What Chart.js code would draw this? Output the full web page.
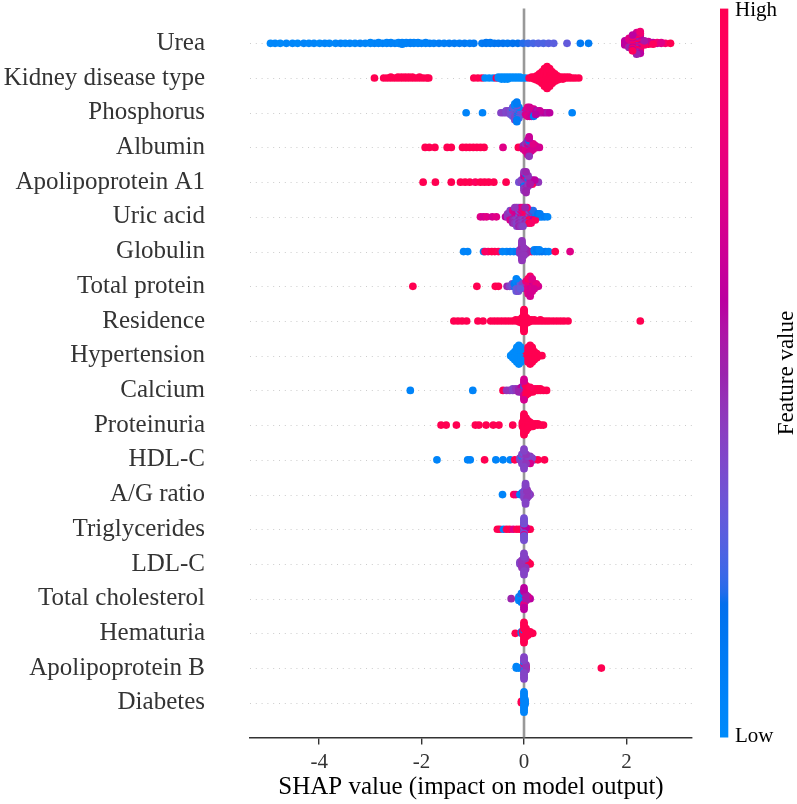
<!DOCTYPE html>
<html><head><meta charset="utf-8">
<script src="https://cdn.jsdelivr.net/npm/chart.js@4.4.0/dist/chart.umd.min.js"></script>
<style>html,body{margin:0;padding:0;background:#fff;}#wrap{width:797px;height:804px;}</style>
</head><body><div id="wrap"><canvas id="c" width="797" height="804"></canvas></div>
<script>
const features = ["Urea","Kidney disease type","Phosphorus","Albumin","Apolipoprotein A1","Uric acid","Globulin","Total protein","Residence","Hypertension","Calcium","Proteinuria","HDL-C","A/G ratio","Triglycerides","LDL-C","Total cholesterol","Hematuria","Apolipoprotein B","Diabetes"];
const xTicks = [-4, -2, 0, 2];
const xMin = -5.35, xMax = 3.28;
const xTitle = "SHAP value (impact on model output)";
const barLabels = {high: "High", low: "Low", title: "Feature value"};

// each entry: [SHAP value, feature value (0 = low, 1 = high), number of samples]
const urea = [[-4.95,0.02,1],[-4.86,0.03,1],[-4.76,0.02,1],[-4.64,0.04,1],[-4.52,0.03,1],[-4.42,0.02,1],[-4.3,0.05,1],[-4.2,0.03,1],[-4.1,0.04,1],[-3.99,0.02,1],[-3.89,0.05,1],[-3.8,0.03,1],
 [-3.68,0.04,1],[-3.58,0.06,1],[-3.49,0.03,1],[-3.4,0.05,1],[-3.3,0.04,1],[-3.2,0.06,1],[-3.1,0.05,1],[-3.0,0.04,2],[-2.92,0.06,1],[-2.84,0.05,2],[-2.76,0.07,1],[-2.68,0.05,2],[-2.6,0.06,2],[-2.52,0.08,1],[-2.45,0.05,2],[-2.38,0.07,3],[-2.3,0.06,2],[-2.22,0.08,2],[-2.15,0.07,2],[-2.07,0.06,2],[-2.0,0.08,1],[-1.92,0.07,2],[-1.84,0.09,1],[-1.76,0.08,1],[-1.66,0.1,1],[-1.56,0.09,1],[-1.46,0.1,1],[-1.36,0.11,1],[-1.26,0.1,1],[-1.16,0.12,1],[-1.06,0.1,1],[-0.98,0.12,1],
 [-0.82,0.12,1],[-0.74,0.14,2],[-0.66,0.13,2],[-0.58,0.15,1],[-0.5,0.14,1],[-0.41,0.16,1],[-0.32,0.15,1],[-0.22,0.17,1],[-0.12,0.18,1],[-0.02,0.2,1],[0.08,0.22,1],[0.18,0.24,1],[0.28,0.26,1],[0.38,0.25,1],[0.48,0.27,1],[0.58,0.28,1],
 [0.84,0.3,1],[1.1,0.12,1],[1.26,0.1,1],
 [1.97,0.6,4],[1.97,0.9,2],[2.05,0.75,5],[2.05,0.5,4],[2.05,0.95,3],[2.12,0.95,7],[2.12,0.6,7],[2.12,0.8,6],[2.2,0.7,6],[2.2,1.0,5],[2.2,0.5,6],[2.27,0.85,6],[2.27,0.6,5],[2.35,0.9,3],[2.35,0.55,3],[2.43,1.0,2],[2.43,0.65,2],[2.52,0.95,2],[2.52,0.6,1],[2.6,0.6,1],[2.6,0.85,1],[2.68,0.75,2],[2.76,0.9,1],[2.86,1.0,1]];
const kidney = [[-2.92,1,1],[-2.74,1,1],[-2.67,1,1],[-2.6,1,2],[-2.53,1,1],[-2.46,1,2],[-2.39,1,2],[-2.32,1,2],[-2.25,1,2],[-2.18,1,2],[-2.11,1,1],[-2.04,1,2],[-1.97,1,1],[-1.9,1,1],[-1.86,1,1],
 [-0.98,1,1],[-0.9,1,1],[-0.82,1,1],[-0.76,0,1],[-0.68,0,1],[-0.6,0,1],[-0.54,1,1],[-0.5,0,2],[-0.44,0,3],[-0.38,0,3],[-0.32,0,3],[-0.26,0,2],[-0.2,0,2],[-0.14,0,2],[-0.08,0,2],[-0.03,0,1],[0.03,0,1],
 [0.1,1,1],[0.15,1,2],[0.2,1,3],[0.25,1,5],[0.3,1,8],[0.35,1,12],[0.4,1,18],[0.45,1,22],[0.5,1,18],[0.55,1,12],[0.6,1,8],[0.65,1,5],[0.7,1,3],[0.76,1,3],[0.82,1,2],[0.88,1,2],[0.94,1,1],[1.0,1,1],[1.07,1,1]];
const phosphorus = [[-1.13,0.05,1],[-0.81,0.05,1],
 [-0.45,0.4,1],[-0.4,0.42,1],[-0.35,0.38,2],[-0.3,0.4,2],[-0.26,0.35,3],[-0.22,0.3,4],[-0.22,0.05,2],[-0.18,0.38,5],[-0.18,0.05,5],[-0.14,0.1,8],[-0.14,0.35,4],[-0.1,0.3,4],[-0.1,0.05,3],[-0.06,0.35,3],[-0.02,0.4,2],
 [0.03,0.7,3],[0.07,0.75,4],[0.07,0.5,2],[0.11,0.7,4],[0.11,0.45,2],[0.15,0.95,2],[0.15,0.65,3],[0.19,0.1,3],[0.19,0.7,2],[0.23,0.6,3],[0.27,0.55,2],[0.31,0.65,2],[0.36,0.55,1],[0.41,0.6,1],[0.46,0.55,1],[0.5,0.6,1],
 [0.94,0.05,1]];
const albumin = [[-1.93,1,1],[-1.85,1,1],[-1.74,1,1],[-1.5,1,1],[-1.42,1,1],[-1.2,1,1],[-1.13,1,1],[-1.06,1,1],[-0.99,1,1],[-0.92,1,1],[-0.85,1,1],[-0.78,1,1],
 [-0.41,0.75,1],[-0.11,1,1],[-0.06,0.95,1],
 [-0.01,0.7,2],[-0.01,0.5,1],[0.03,0.75,3],[0.03,0.45,2],[0.07,0.7,4],[0.07,0.1,2],[0.07,0.5,3],[0.1,0.65,5],[0.1,0.15,3],[0.1,0.45,4],[0.14,0.7,3],[0.14,0.5,2],[0.18,0.75,3],[0.18,0.6,1],[0.22,0.7,2],[0.26,0.65,1],[0.3,0.7,1]];
const apoA1 = [[-1.97,1,1],[-1.73,1,1],[-1.42,1,1],[-1.24,1,1],[-1.15,1,1],[-1.06,1,1],[-0.95,0.95,1],[-0.85,1,1],[-0.77,1,1],[-0.69,1,1],[-0.59,1,1],[-0.35,1,1],
 [-0.1,0.35,1],[-0.05,0.4,2],[0.0,0.45,5],[0.0,0.1,2],[0.0,0.6,3],[0.04,0.5,6],[0.04,0.15,3],[0.04,0.9,2],[0.08,0.45,4],[0.08,0.1,2],[0.12,0.55,3],[0.16,0.95,2],[0.16,0.5,1],[0.21,0.6,2],[0.28,0.45,1]];
const uricAcid = [[-0.85,0.75,1],[-0.79,0.7,1],[-0.73,0.75,1],[-0.62,0.7,1],[-0.54,0.75,1],
 [-0.36,0.6,1],[-0.32,0.45,2],[-0.27,0.7,2],[-0.27,0.4,2],[-0.22,0.5,3],[-0.22,0.75,2],[-0.18,0.45,4],[-0.18,0.7,2],[-0.14,0.4,4],[-0.14,0.65,3],[-0.1,0.5,4],[-0.1,0.35,3],[-0.06,0.45,4],[-0.06,0.7,3],[-0.02,0.4,4],[-0.02,0.8,3],[0.02,0.5,4],[0.02,0.95,2],[0.06,0.45,3],[0.06,0.85,3],[0.1,1,3],[0.1,0.35,2],[0.14,0.9,3],[0.14,0.5,2],[0.18,0.6,2],[0.18,0.2,2],[0.22,0.95,2],[0.22,0.1,1],[0.27,0.15,2],[0.31,0.1,2],[0.35,0.05,1],[0.4,0.1,1],[0.46,0.05,1]];
const globulin = [[-1.18,0.05,1],[-1.1,0.05,1],
 [-0.79,0.05,1],[-0.76,0.95,1],[-0.7,0.9,1],[-0.63,1,1],[-0.57,1,1],[-0.5,0.95,1],
 [-0.42,0.05,1],[-0.34,0.05,1],[-0.27,0.1,1],[-0.2,0.05,1],[-0.14,0.1,1],
 [-0.08,0.45,3],[-0.04,0.45,8],[-0.04,0.5,4],[0.0,0.45,5],[0.04,0.5,3],
 [0.1,1,1],[0.15,0.9,1],[0.2,0.05,2],[0.25,0.1,2],[0.3,0.05,2],[0.35,0.15,1],[0.42,0.1,1],[0.48,0.05,1],[0.61,1,1],[0.9,0.75,1]];
const totalProtein = [[-2.17,1,1],[-0.92,1,1],[-0.56,1,1],[-0.5,1,1],
 [-0.33,0.5,1],[-0.28,0.4,1],[-0.23,0.35,2],[-0.19,0.1,2],[-0.15,0.3,3],[-0.15,0.05,3],[-0.11,0.35,3],[-0.11,0.1,2],[-0.07,0.3,3],[-0.03,0.4,2],
 [0.0,1,1],[0.04,0.8,3],[0.04,0.6,1],[0.08,0.75,4],[0.08,0.95,3],[0.12,0.7,5],[0.12,0.9,4],[0.16,0.75,4],[0.16,0.6,2],[0.2,0.7,3],[0.24,0.8,2],[0.28,0.7,1]];
const residence = [[-1.37,1,1],[-1.29,1,1],[-1.21,1,1],[-1.12,1,1],[-0.9,1,1],[-0.8,1,1],[-0.65,1,1],[-0.58,1,1],[-0.51,1,1],[-0.44,1,1],[-0.37,1,1],[-0.3,1,1],[-0.23,1,1],[-0.16,1,2],[-0.09,1,3],[-0.04,1,6],[0.0,1,22],[0.05,1,6],[0.09,1,3],[0.14,1,2],[0.2,1,2],[0.26,1,1],[0.32,1,2],[0.38,1,1],[0.44,1,1],[0.5,1,1],[0.57,1,1],[0.64,1,1],[0.71,1,1],[0.78,1,1],[0.86,1,1],[2.27,1,1]];
const hypertension = [[-0.26,0,1],[-0.22,0,3],[-0.18,0,5],[-0.14,0,8],[-0.1,0,10],[-0.06,0,8],[-0.02,0,4],
 [0.04,1,4],[0.08,1,8],[0.12,1,10],[0.16,1,8],[0.2,1,5],[0.25,1,3],[0.3,1,1],[0.35,1,1]];
const calcium = [[-2.22,0.05,1],[-1.0,0.05,1],
 [-0.41,1,1],[-0.34,0.45,1],[-0.28,0.45,1],[-0.22,0.4,2],[-0.16,0.45,2],[-0.1,0.5,3],[-0.05,0.05,2],[-0.05,0.6,2],
 [0.0,0.7,8],[0.0,0.55,4],[0.0,0.1,2],[0.04,1,5],[0.04,0.75,2],[0.08,1,5],[0.12,0.95,4],[0.17,1,3],[0.22,0.9,2],[0.27,1,2],[0.32,1,2],[0.38,1,1],[0.44,1,1]];
const proteinuria = [[-1.62,1,1],[-1.52,1,1],[-1.32,1,1],[-0.95,1,1],[-0.88,1,1],[-0.74,1,1],[-0.6,1,1],[-0.49,1,1],[-0.22,1,1],
 [-0.03,1,4],[0.0,1,16],[0.04,1,10],[0.08,1,6],[0.12,1,4],[0.17,1,3],[0.22,1,2],[0.27,1,2],[0.33,1,1],[0.38,1,1]];
const hdlc = [[-1.7,0.05,1],[-1.1,0.05,1],[-1.05,0.05,1],[-0.77,1,1],[-0.55,0.05,1],[-0.41,0.05,1],[-0.27,0.05,1],[-0.18,1,1],
 [-0.08,0.4,2],[-0.04,0.4,4],[-0.04,0.05,2],[0.0,0.4,8],[0.0,0.3,4],[0.04,0.45,5],[0.04,0.1,1],[0.08,0.4,4],[0.12,0.7,3],[0.12,0.45,2],[0.16,0.4,2],[0.2,0.45,1],[0.27,1,1],[0.4,1,1]];
const agRatio = [[-0.42,0.05,1],[-0.2,1,1],[-0.16,0.8,1],[-0.08,0.05,1],[-0.04,0.1,2],
 [0.0,0.4,5],[0.03,0.4,10],[0.03,0.35,4],[0.06,0.45,6],[0.09,0.4,3],[0.12,0.45,1]];
const triglycerides = [[-0.52,1,1],[-0.47,1,1],[-0.4,0.05,1],[-0.34,1,1],[-0.28,1,1],[-0.21,0.75,1],[-0.14,1,1],[-0.08,1,1],
 [0.0,0.35,10],[0.0,0.3,4],[0.0,0.7,3],[0.04,0.6,2],[0.08,1,1],[0.12,1,1]];
const ldlc = [[-0.08,0.4,2],[-0.04,0.45,5],[0.0,0.4,10],[0.0,0.6,3],[0.03,0.45,5],[0.03,0.75,2],[0.08,1,2],[0.12,1,1]];
const totalChol = [[-0.25,0.5,1],[-0.1,0.05,3],[-0.05,0.1,4],[-0.05,0.45,2],[0.0,0.6,8],[0.0,0.75,4],[0.0,1,1],[0.04,0.55,4],[0.08,0.7,2],[0.12,0.6,1]];
const hematuria = [[-0.17,1,1],[-0.05,0.05,2],[-0.03,1,2],[0.0,1,12],[0.0,0.1,2],[0.04,1,6],[0.08,1,3],[0.12,1,2],[0.17,1,1]];
const apoB = [[-0.15,0.05,2],[-0.1,0.05,1],[0.0,0.4,10],[0.0,0.05,3],[0.0,0.8,2],[0.04,0.45,3],[0.04,1,1],[1.51,1,1]];
const diabetes = [[-0.05,1,2],[0.0,0.05,14],[0.02,0.05,4]];

const rows = [urea,kidney,phosphorus,albumin,apoA1,uricAcid,globulin,totalProtein,residence,hypertension,calcium,proteinuria,hdlc,agRatio,triglycerides,ldlc,totalChol,hematuria,apoB,diabetes];

// SHAP red_blue colormap (LCH interpolation)
function shapColor(t){
  t = Math.max(0, Math.min(1, t));
  const L = t < 0.5 ? 54 + (40 - 54) * (t / 0.5) : 40 + (54 - 40) * ((t - 0.5) / 0.5);
  const C = 70 + 20 * t;
  const h = 4.6588 + ((0.35470565 + 2 * Math.PI) - 4.6588) * t;
  const a = C * Math.cos(h), b = C * Math.sin(h);
  const fy = (L + 16) / 116, fx = fy + a / 500, fz = fy - b / 200;
  const finv = v => v * v * v > 0.008856 ? v * v * v : (v - 16 / 116) / 7.787;
  const X = 0.95047 * finv(fx), Y = finv(fy), Z = 1.08883 * finv(fz);
  const r = 3.2406 * X - 1.5372 * Y - 0.4986 * Z;
  const g = -0.9689 * X + 1.8758 * Y + 0.0415 * Z;
  const bl = 0.0557 * X - 0.2040 * Y + 1.0570 * Z;
  const gam = c => { c = c > 0.0031308 ? 1.055 * Math.pow(c, 1 / 2.4) - 0.055 : 12.92 * c; return Math.round(255 * Math.max(0, Math.min(1, c))); };
  return `rgb(${gam(r)},${gam(g)},${gam(bl)})`;
}

// beeswarm layout (SHAP style binning)
function swarm(entries, pos){
  const pts = [];
  const maxN = Math.max(...entries.map(e => e[2] || 1));
  for (let k = 0; k < maxN; k++) entries.forEach(e => { if ((e[2] || 1) > k) pts.push({x: e[0], c: e[1]}); });
  const xs = pts.map(p => p.x);
  const mn = Math.min(...xs), mx = Math.max(...xs);
  pts.forEach((p, i) => { p.q = Math.round(100 * (p.x - mn) / (mx - mn + 1e-8)); p.i = i; });
  const order = pts.slice().sort((a, b) => a.q - b.q || a.i - b.i);
  let layer = 0, last = -1;
  order.forEach(p => { if (p.q !== last) layer = 0; p.ys = Math.ceil(layer / 2) * ((layer % 2) * 2 - 1); layer++; last = p.q; });
  const maxY = Math.max(...pts.map(p => p.ys + 1));
  pts.forEach(p => { p.ys *= 0.9 * 0.4 / maxY; });
  return pts.map(p => ({x: p.x, y: pos + p.ys, c: p.c}));
}

const FONT = "'Liberation Serif', 'Times New Roman', serif";
const nF = features.length;
const datasets = rows.map((entries, i) => {
  const pts = swarm(entries, nF - 1 - i);
  return {
    label: features[i],
    data: pts.map(p => ({x: p.x, y: p.y})),
    backgroundColor: pts.map(p => shapColor(p.c)),
    pointRadius: 3.85, pointHoverRadius: 3.85, borderWidth: 0
  };
});

const decor = {
  id: 'decor',
  beforeDatasetsDraw(chart){
    const {ctx, chartArea: a, scales: {x, y}} = chart;
    ctx.save();
    ctx.strokeStyle = '#cccccc'; ctx.lineWidth = 1; ctx.setLineDash([1, 4.8]);
    features.forEach((f, i) => {
      const py = Math.round(y.getPixelForValue(nF - 1 - i)) + 0.5;
      ctx.beginPath(); ctx.moveTo(a.left, py); ctx.lineTo(a.right, py); ctx.stroke();
    });
    ctx.setLineDash([]);
    ctx.strokeStyle = '#999999'; ctx.lineWidth = 2.6;
    const px = x.getPixelForValue(0);
    ctx.beginPath(); ctx.moveTo(px, a.top); ctx.lineTo(px, a.bottom); ctx.stroke();
    ctx.restore();
  },
  afterDraw(chart){
    const {ctx, chartArea: a} = chart;
    const x0 = a.right + 28, w = 8.3;
    ctx.save();
    const grad = ctx.createLinearGradient(0, a.bottom, 0, a.top);
    for (let k = 0; k <= 60; k++) grad.addColorStop(k / 60, shapColor(k / 60));
    ctx.fillStyle = grad;
    ctx.fillRect(x0, a.top, w, a.bottom - a.top);
    ctx.fillStyle = '#000';
    ctx.font = `21px ${FONT}`;
    ctx.textAlign = 'left'; ctx.textBaseline = 'middle';
    ctx.fillText(barLabels.high, x0 + w + 6.7, a.top + 1.5);
    ctx.fillText(barLabels.low, x0 + w + 6.7, a.bottom - 1);
    ctx.translate(x0 + w + 59, (a.top + a.bottom) / 2);
    ctx.rotate(-Math.PI / 2);
    ctx.textAlign = 'center';
    ctx.font = `23px ${FONT}`;
    ctx.fillText(barLabels.title, 0, 0);
    ctx.restore();
  }
};

new Chart(document.getElementById('c'), {
  type: 'scatter',
  data: {datasets},
  options: {
    responsive: false, animation: false, devicePixelRatio: 1,
    layout: {padding: {left: 0, right: 105, top: 8.6, bottom: 0}},
    plugins: {legend: {display: false}, tooltip: {enabled: false}},
    scales: {
      x: {
        type: 'linear', min: xMin, max: xMax,
        afterBuildTicks: s => { s.ticks = xTicks.map(v => ({value: v})); },
        afterFit: s => { s.height = 66.5; s.paddingLeft = 0; s.paddingRight = 0; },
        ticks: {font: {family: FONT, size: 21}, color: '#333333', padding: 5, callback: v => String(v)},
        grid: {display: true, drawOnChartArea: false, drawTicks: true, tickLength: 7, tickWidth: 1.4, color: '#333333', lineWidth: 1.4},
        border: {display: true, color: '#333333', width: 1.5},
        title: {display: true, text: xTitle, font: {family: FONT, size: 25}, color: '#000', padding: {top: 0, bottom: 2}}
      },
      y: {
        type: 'linear', min: -1, max: nF,
        afterBuildTicks: s => { s.ticks = features.map((f, i) => ({value: nF - 1 - i})); },
        afterFit: s => { s.width = 250; s.paddingTop = 0; s.paddingBottom = 0; },
        ticks: {font: {family: FONT, size: 25}, color: '#333333', padding: 45, autoSkip: false, callback: v => features[nF - 1 - v]},
        grid: {display: false, drawTicks: false},
        border: {display: false}
      }
    }
  },
  plugins: [decor]
});
</script>
</body></html>
